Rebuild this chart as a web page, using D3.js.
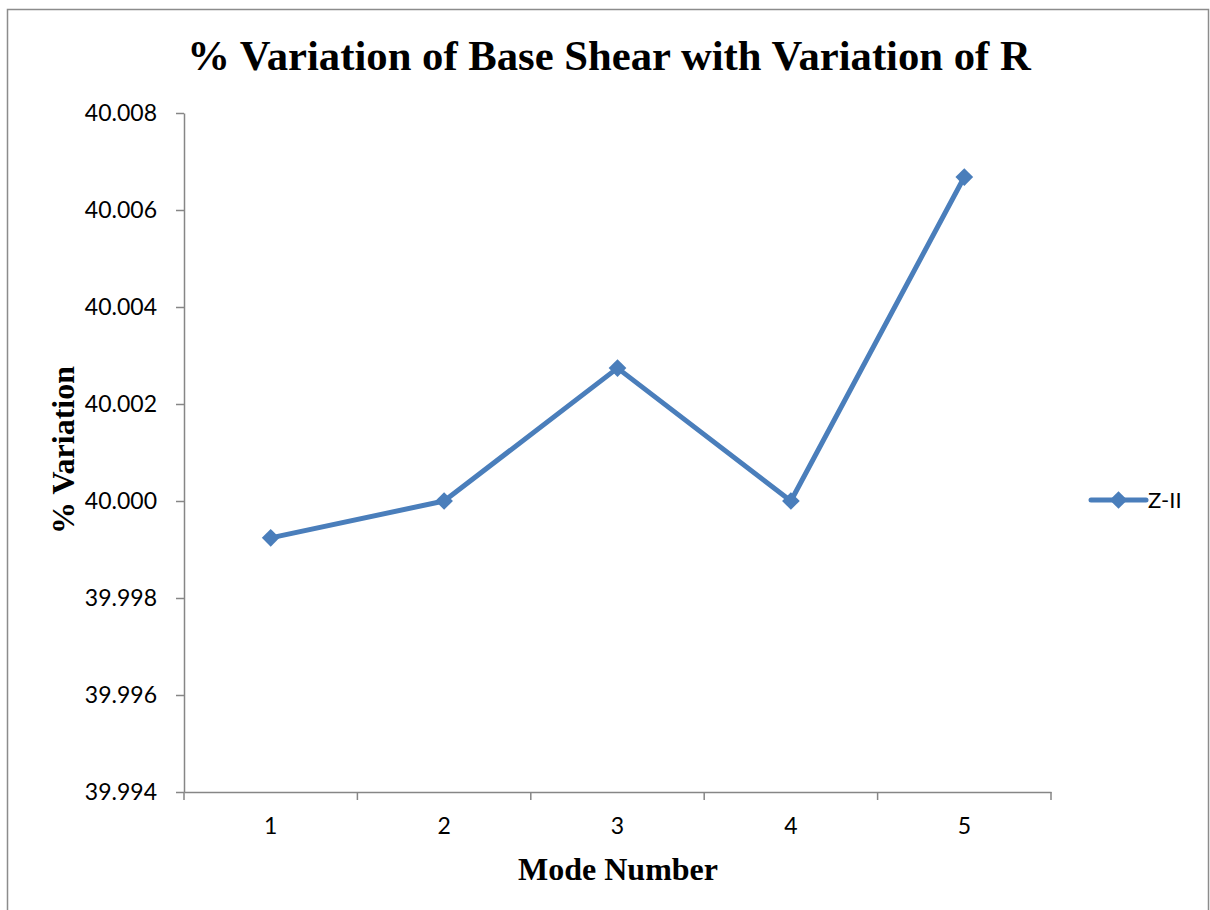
<!DOCTYPE html>
<html><head><meta charset="utf-8">
<script src="https://cdn.jsdelivr.net/npm/d3@7"></script>
<style>body{margin:0;background:#fff}svg{display:block}</style>
</head><body>
<script>
const categories = ["1","2","3","4","5"];
const seriesName = "Z-II";
const values = [39.99924, 40.0000, 40.00274, 40.0000, 40.00668];
const yTicks = [39.994, 39.996, 39.998, 40.000, 40.002, 40.004, 40.006, 40.008];

const W = 1210, H = 910;
const svg = d3.select("body").append("svg").attr("width", W).attr("height", H);
svg.append("rect").attr("x", 7.5).attr("y", 9.5).attr("width", 1201).attr("height", 910)
  .attr("fill", "#fff").attr("stroke", "#8c8c8c").attr("stroke-width", 1.5);

const pL = 184, pR = 1051, pT = 113, pB = 792;
const x = d3.scaleBand().domain(categories).range([pL, pR]);
const y = d3.scaleLinear().domain([39.994, 40.008]).range([pB, pT]);
const color = "#4A7EBB";
const tickFont = "Lato, 'Open Sans', sans-serif";
const serif = "'Liberation Serif', 'Times New Roman', serif";

// Y axis
const ya = svg.append("g").attr("transform", `translate(${pL},0)`)
  .call(d3.axisLeft(y).tickValues(yTicks).tickFormat(d3.format(".3f")).tickSize(8).tickSizeOuter(0));
ya.select(".domain").attr("stroke", "#868686").attr("stroke-width", 1.5);
ya.selectAll(".tick line").attr("stroke", "#868686").attr("stroke-width", 1.5);
ya.selectAll(".tick text").attr("font-family", tickFont).attr("font-size", 23).attr("fill", "#000").attr("x", -27);

// X axis
const xa = svg.append("g").attr("transform", `translate(0,${pB})`)
  .call(d3.axisBottom(x).tickSize(0).tickSizeOuter(0));
xa.select(".domain").attr("stroke", "#868686").attr("stroke-width", 1.5);
xa.selectAll(".tick text").attr("font-family", tickFont).attr("font-size", 23).attr("fill", "#000").attr("y", 26);
const bounds = categories.map(c => x(c)).concat([x(categories[categories.length-1]) + x.bandwidth()]);
svg.append("g").selectAll("line").data(bounds).join("line")
  .attr("x1", d => d).attr("x2", d => d).attr("y1", pB).attr("y2", pB + 8)
  .attr("stroke", "#868686").attr("stroke-width", 1.5);

// Line
const cx = c => x(c) + x.bandwidth() / 2;
svg.append("path").datum(values)
  .attr("d", d3.line().x((d, i) => cx(categories[i])).y(d => y(d)))
  .attr("fill", "none").attr("stroke", color).attr("stroke-width", 5).attr("stroke-linejoin", "round");
const sym = d3.symbol().type(d3.symbolDiamond2).size(200);
svg.append("g").selectAll("path").data(values).join("path")
  .attr("d", sym).attr("transform", (d, i) => `translate(${cx(categories[i])},${y(d)})`)
  .attr("fill", color);

// Title and labels
svg.append("text").attr("x", 609).attr("y", 70).attr("text-anchor", "middle")
  .attr("font-family", serif).attr("font-weight", "bold").attr("font-size", 42.7)
  .text("% Variation of Base Shear with Variation of R");
svg.append("text").attr("transform", "translate(74,450) rotate(-90)").attr("text-anchor", "middle")
  .attr("font-family", serif).attr("font-weight", "bold").attr("font-size", 32)
  .text("% Variation");
svg.append("text").attr("x", 618).attr("y", 880).attr("text-anchor", "middle")
  .attr("font-family", serif).attr("font-weight", "bold").attr("font-size", 32)
  .text("Mode Number");

// Legend
const lg = svg.append("g").attr("transform", "translate(1091,500)");
lg.append("line").attr("x1", 0).attr("x2", 55).attr("y1", 0).attr("y2", 0)
  .attr("stroke", color).attr("stroke-width", 5).attr("stroke-linecap", "round");
lg.append("path").attr("d", sym).attr("transform", "translate(27.5,0)").attr("fill", color);
lg.append("text").attr("x", 57).attr("y", 0).attr("dy", "0.35em")
  .attr("font-family", tickFont).attr("font-size", 22).attr("fill", "#000").text(seriesName);
</script>
</body></html>
